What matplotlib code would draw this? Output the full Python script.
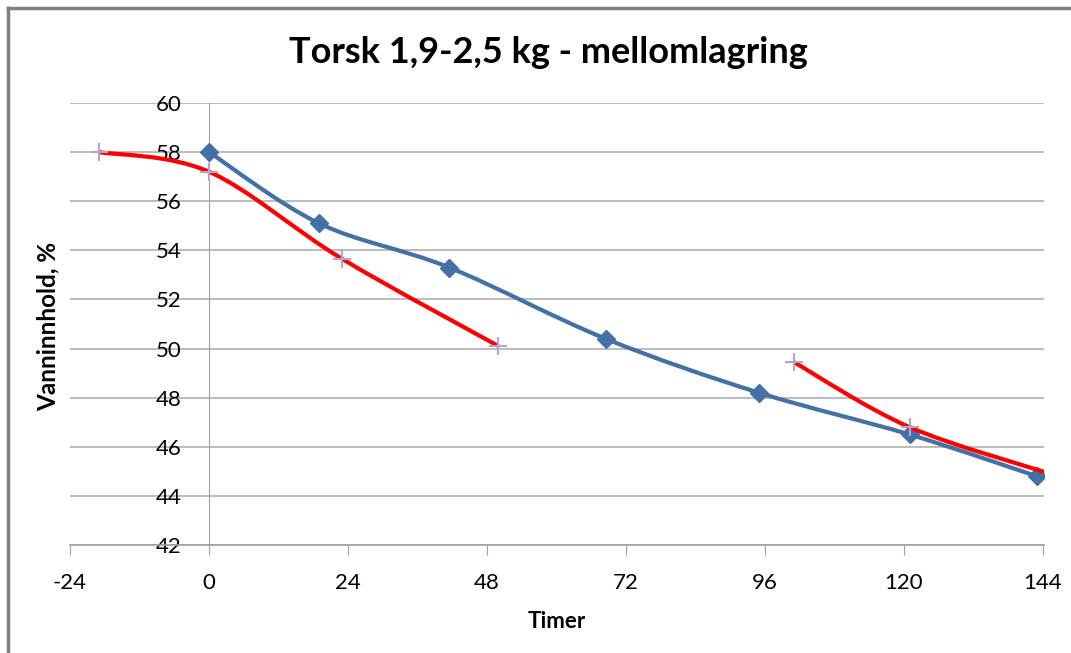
import numpy as np
import matplotlib
matplotlib.use("Agg")
import matplotlib.pyplot as plt
from matplotlib.path import Path
from matplotlib.patches import PathPatch

plt.rcParams['font.family'] = ['Lato', 'DejaVu Sans']

# blue series (diamonds)
blue_t = [0, 19, 41.5, 68.5, 95, 121, 143]
blue_v = [58.0, 55.1, 53.3, 50.4, 48.2, 46.5, 44.8]

# red series, two pieces (plus markers)
red1_t = [-19, 0, 23, 50]
red1_v = [58.0, 57.2, 53.65, 50.1]
red2_t = [101, 121, 146]
red2_v = [49.45, 46.8, 44.85]

xticks = [-24, 0, 24, 48, 72, 96, 120, 144]
yticks = [42, 44, 46, 48, 50, 52, 54, 56, 58, 60]


def smooth_path(xs, ys):
    # excel-like smoothed line: cubic bezier through the points
    p = np.column_stack([xs, ys]).astype(float)
    verts = [p[0]]
    codes = [Path.MOVETO]
    n = len(p)
    for i in range(n - 1):
        p0 = p[i - 1] if i > 0 else p[i]
        p1 = p[i]
        p2 = p[i + 1]
        p3 = p[i + 2] if i + 2 < n else p[i + 1]
        c1 = p1 + (p2 - p0) / 6.0
        c2 = p2 - (p3 - p1) / 6.0
        verts += [c1, c2, p2]
        codes += [Path.CURVE4] * 3
    return Path(verts, codes)


fig = plt.figure(figsize=(10.71, 6.53), dpi=100)
ax = fig.add_axes([0.0654, 0.1654, 0.9098, 0.6769])

blue = '#4470A8'
red = '#FF0000'
plus = '#B3A6CC'

ax.add_patch(PathPatch(smooth_path(blue_t, blue_v), fill=False, edgecolor=blue, lw=3, zorder=3))
ax.plot(blue_t, blue_v, ls='none', marker='D', ms=9, color=blue, zorder=4)

for tt, vv in [(red1_t, red1_v), (red2_t, red2_v)]:
    ax.add_patch(PathPatch(smooth_path(tt, vv), fill=False, edgecolor=red, lw=3, zorder=5))
    ax.plot(tt, vv, ls='none', marker='+', ms=13, mew=1.5, color=plus, zorder=6)

for s in ['top', 'right']:
    ax.spines[s].set_visible(False)
ax.spines['left'].set_position(('data', 0))
ax.spines['left'].set_color('#A0A0A0')
ax.spines['bottom'].set_color('#A0A0A0')
ax.spines['bottom'].set_linewidth(1.2)

ax.set_xlim(-24, 144.3)
ax.set_ylim(42, 60)
ax.set_xticks(xticks)
ax.set_yticks(yticks)
ax.set_xticklabels([str(t) for t in xticks])
ax.set_yticklabels([str(t) for t in yticks])
ax.tick_params(axis='y', length=0, pad=20, labelsize=16)
ax.tick_params(axis='x', length=7, color='#A0A0A0', direction='out', pad=13, labelsize=16)
ax.grid(axis='y', color='#B0B0B0', lw=1.2)
ax.set_axisbelow(True)

ax.set_xlabel('Timer', fontsize=16, fontweight='bold', labelpad=13)
fig.text(0.045, 0.50, 'Vanninnhold, %', rotation=90, fontsize=17.5,
         fontweight='bold', ha='center', va='center')
fig.text(0.512, 0.920, 'Torsk 1,9-2,5 kg - mellomlagring', fontsize=26,
         fontweight='bold', ha='center', va='center')

# chart frame (left and top only visible)
fig.add_artist(plt.Line2D([0.0075, 0.0075], [0, 0.988], color='#808080', lw=2.5))
fig.add_artist(plt.Line2D([0.0075, 1.02], [0.988, 0.988], color='#808080', lw=2.5))

fig.savefig('out.png', dpi=100)
